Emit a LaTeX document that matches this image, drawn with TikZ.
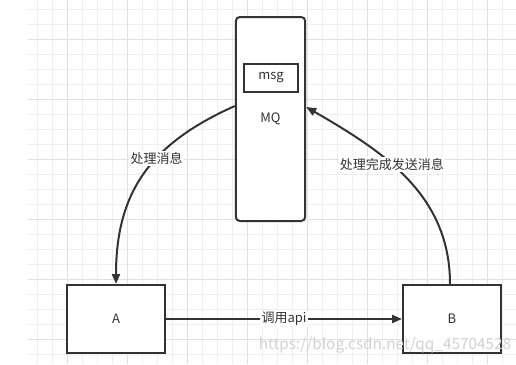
\documentclass[tikz,border=0pt]{standalone}
\usepackage{fontspec}
\newfontfamily\cjk{Noto Sans CJK SC}
\usetikzlibrary{arrows.meta,calc}
\definecolor{ink}{HTML}{333333}
\definecolor{gridlight}{HTML}{EFEFEF}
\definecolor{griddark}{HTML}{E0E0E0}
\tikzset{
  box/.style={draw=ink, line width=1.5pt, minimum width=73.5pt, minimum height=51pt,
    inner sep=0pt, text=ink, font=\cjk\fontsize{9.75}{11}\selectfont},
  queue/.style={box, rounded corners=3pt, minimum width=52pt, minimum height=153pt},
  msgbox/.style={box, minimum width=40.5pt, minimum height=21pt},
  flow/.style={draw=ink, line width=1.5pt, -{Triangle[length=7.5pt,width=6pt]}},
  flowlabel/.style={fill=white, text=ink, inner sep=1pt, font=\cjk\fontsize{9.75}{11}\selectfont}
}
\begin{document}
\begin{tikzpicture}[x=0.75pt,y=-0.75pt]
\useasboundingbox (0,0) rectangle (516,364);
% background grid
\foreach \x in {37.5,52.5,...,516} \draw[gridlight, line width=0.75pt] (\x,0) -- (\x,364);
\foreach \y in {9.5,24.5,...,364} \draw[gridlight, line width=0.75pt] (28,\y) -- (516,\y);
\foreach \x in {67.5,127.5,...,516} \draw[griddark, line width=0.75pt] (\x,0) -- (\x,364);
\foreach \y in {39.5,99.5,...,364} \draw[griddark, line width=0.75pt] (28,\y) -- (516,\y);

\node[queue, fill=white] (mq) at (270.5,119) {MQ};
\node[msgbox] (msg) at (271,78) {msg};
\node[box, fill=white] (a) at (116,319) {A};
\node[box, fill=white] (b) at (452,319) {B};

\draw[flow] ($(mq.west)+(0,-13)$) to[out=204, in=90, looseness=1.1]
  node[flowlabel, pos=0.4] {处理消息} (a.north);
\draw[flow] ($(b.north)+(-2,0)$) to[out=90, in=-30]
  node[flowlabel, pos=0.59] {处理完成发送消息} ($(mq.east)+(0,-12)$);
\draw[flow] (a) -- node[flowlabel] {调用api} (b);

\node[text=black!18, font=\cjk\fontsize{11.5}{13}\selectfont] (mark) at (385,345) {https://blog.csdn.net/qq\_45704528};
\end{tikzpicture}
\end{document}
